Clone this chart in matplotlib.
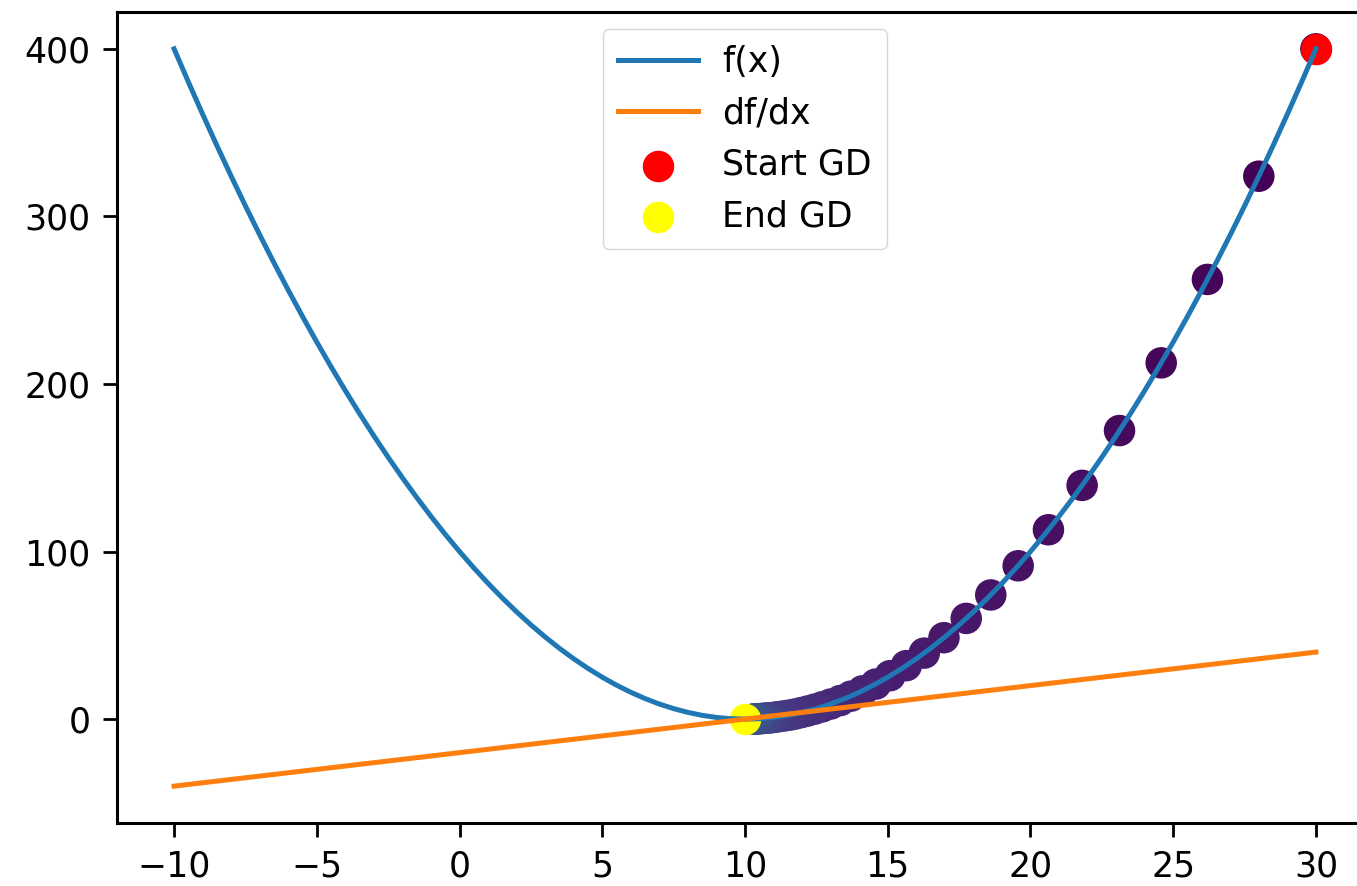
import matplotlib
matplotlib.use("Agg")
from matplotlib import pyplot as plt

# f(x) curve, every half unit of x
curve_x = [-10, -9.5, -9, -8.5, -8, -7.5, -7, -6.5, -6, -5.5, -5, -4.5, -4, -3.5, -3, -2.5,
           -2, -1.5, -1, -0.5, 0, 0.5, 1, 1.5, 2, 2.5, 3, 3.5, 4, 4.5, 5, 5.5, 6, 6.5, 7, 7.5,
           8, 8.5, 9, 9.5, 10, 10.5, 11, 11.5, 12, 12.5, 13, 13.5, 14, 14.5, 15, 15.5, 16, 16.5,
           17, 17.5, 18, 18.5, 19, 19.5, 20, 20.5, 21, 21.5, 22, 22.5, 23, 23.5, 24, 24.5, 25,
           25.5, 26, 26.5, 27, 27.5, 28, 28.5, 29, 29.5, 30]
curve_y = [400, 380.25, 361, 342.25, 324, 306.25, 289, 272.25, 256, 240.25, 225, 210.25, 196,
           182.25, 169, 156.25, 144, 132.25, 121, 110.25, 100, 90.25, 81, 72.25, 64, 56.25, 49,
           42.25, 36, 30.25, 25, 20.25, 16, 12.25, 9, 6.25, 4, 2.25, 1, 0.25, 0, 0.25, 1, 2.25,
           4, 6.25, 9, 12.25, 16, 20.25, 25, 30.25, 36, 42.25, 49, 56.25, 64, 72.25, 81, 90.25,
           100, 110.25, 121, 132.25, 144, 156.25, 169, 182.25, 196, 210.25, 225, 240.25, 256,
           272.25, 289, 306.25, 324, 342.25, 361, 380.25, 400]

# derivative line
deriv_x = [-10, 0, 10, 20, 30]
deriv_y = [-40, -20, 0, 20, 40]

# gradient descent steps
gd_x = [30, 28, 26.2, 24.58, 23.12, 21.81, 20.63, 19.57, 18.61, 17.75, 16.97, 16.28, 15.65,
        15.08, 14.58, 14.12, 13.71, 13.34, 13.0, 12.7, 12.43, 12.19, 11.97, 11.77, 11.6,
        11.44, 11.29, 11.16, 11.05, 10.94, 10.85, 10.76, 10.69, 10.62, 10.56, 10.5, 10.45,
        10.41, 10.37, 10.33, 10.3]
gd_y = [400, 324, 262.4, 212.6, 172.2, 139.5, 113.0, 91.5, 74.1, 60.1, 48.6, 39.4, 31.9,
        25.9, 20.9, 16.9, 13.7, 11.1, 9.0, 7.3, 5.9, 4.8, 3.9, 3.1, 2.5,
        2.1, 1.7, 1.4, 1.1, 0.9, 0.7, 0.6, 0.5, 0.4, 0.3, 0.25, 0.2,
        0.17, 0.13, 0.11, 0.09]
start = (30, 400)
end = (10.0, 0.0)

fs = 25
plt.rcParams['font.size'] = fs

fig = plt.figure(figsize=(13.57, 8.86), dpi=100)
# axes run past the right edge, like the cropped original
ax = fig.add_axes([117/1357, 63/886, 1256/1357, 811/886])

ax.plot(curve_x, curve_y, color='#1f77b4', lw=3.6, label='f(x)', zorder=3)
ax.plot(deriv_x, deriv_y, color='#ff7f0e', lw=3.6, label='df/dx', zorder=3)
ax.scatter(gd_x, gd_y, c=list(range(len(gd_x))), cmap='viridis', vmin=0, vmax=160, s=470, zorder=1)
ax.scatter([start[0]], [start[1]], color='red', s=470, label='Start GD', zorder=2)
ax.scatter([end[0]], [end[1]], color='yellow', s=470, label='End GD', zorder=2)

ax.set_xlim(-12, 32)
ax.set_ylim(-62, 422)
ax.set_xticks([-10, -5, 0, 5, 10, 15, 20, 25, 30])
ax.set_yticks([0, 100, 200, 300, 400])
ax.tick_params(length=10, width=2, pad=9, labelsize=fs)
for s in ax.spines.values():
    s.set_linewidth(2.2)
ax.spines['right'].set_visible(False)

ax.legend(loc='upper center', fontsize=fs, handlelength=2.3, handletextpad=0.7, borderpad=0.45)

fig.savefig('out.png', dpi=100)
